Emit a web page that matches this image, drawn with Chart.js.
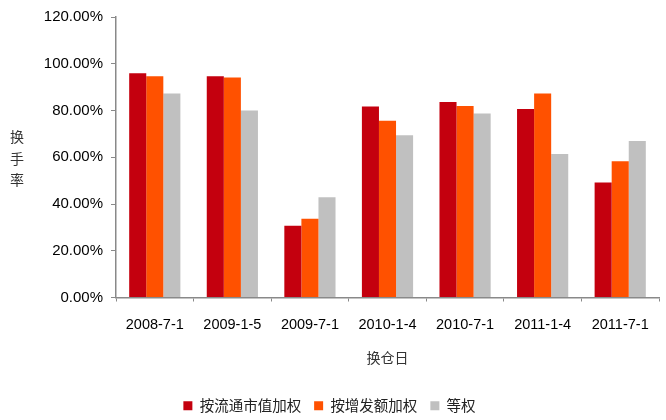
<!DOCTYPE html>
<html>
<head>
<meta charset="utf-8">
<script src="https://cdn.jsdelivr.net/npm/chart.js@4"></script>
<style>
  html, body { margin: 0; padding: 0; background: #fff; }
  #wrap { width: 666px; height: 420px; position: relative; }
</style>
</head>
<body>
<div id="wrap"><canvas id="chart"></canvas></div>
<script>
const dates = ["2008-7-1", "2009-1-5", "2009-7-1", "2010-1-4", "2010-7-1", "2011-1-4", "2011-7-1"];
const byFloatCap = [95.9, 94.7, 30.7, 81.7, 83.6, 80.6, 49.2];
const byIssueAmt = [94.7, 94.1, 33.7, 75.6, 81.9, 87.3, 58.3];
const equalWeight = [87.3, 80.0, 42.9, 69.4, 78.7, 61.4, 66.9];
const seriesNames = ["按流通市值加权", "按增发额加权", "等权"];

const cjk = "'Noto Sans CJK SC', sans-serif";
const latin = "'Liberation Sans', Arial, sans-serif";

// vertical y title, one char per line
const yTitlePlugin = {
    id: "yTitle",
    afterDraw(chart) {
        const ctx = chart.ctx;
        ctx.save();
        ctx.font = "14px " + cjk;
        ctx.fillStyle = "#333";
        ctx.textAlign = "center";
        ctx.textBaseline = "middle";
        ["换", "手", "率"].forEach((ch, i) => ctx.fillText(ch, 17, 137 + i * 21.5));
        ctx.restore();
    },
};

new Chart(document.getElementById("chart").getContext("2d"), {
    type: "bar",
    data: {
        labels: dates,
        datasets: [
            { label: seriesNames[0], data: byFloatCap, backgroundColor: "#C4000E" },
            { label: seriesNames[1], data: byIssueAmt, backgroundColor: "#FF5100" },
            { label: seriesNames[2], data: equalWeight, backgroundColor: "#C0C0C0" },
        ],
    },
    options: {
        responsive: true,
        maintainAspectRatio: false,
        animation: false,
        layout: { padding: { top: 8, right: 7, left: 0, bottom: -3 } },
        datasets: { bar: { categoryPercentage: 0.66, barPercentage: 1.0 } },
        plugins: {
            legend: {
                position: "bottom",
                labels: {
                    boxWidth: 9,
                    boxHeight: 9,
                    padding: 13,
                    color: "#222",
                    font: { family: cjk, size: 14.5 },
                },
            },
            tooltip: { enabled: false },
        },
        scales: {
            x: {
                grid: {
                    offset: true,
                    drawOnChartArea: false,
                    drawTicks: true,
                    tickLength: 4,
                    color: "#898989",
                },
                border: { color: "#898989", width: 1.5 },
                ticks: { color: "#000", font: { family: latin, size: 14.5 }, padding: 15, maxRotation: 0 },
                title: {
                    display: true,
                    text: "换仓日",
                    color: "#333",
                    font: { family: cjk, size: 14 },
                    padding: { top: 0, bottom: 19 },
                },
                afterFit(scale) { scale.height = 88; },
            },
            y: {
                min: 0,
                max: 120,
                ticks: {
                    stepSize: 20,
                    color: "#000",
                    font: { family: latin, size: 15 },
                    padding: 8,
                    callback: (v) => v.toFixed(2) + "%",
                },
                grid: {
                    drawOnChartArea: false,
                    drawTicks: true,
                    tickLength: 5,
                    color: "#898989",
                },
                border: { color: "#898989", width: 1.5 },
                afterFit(scale) { scale.width = 116; },
            },
        },
    },
    plugins: [yTitlePlugin],
});
</script>
</body>
</html>
